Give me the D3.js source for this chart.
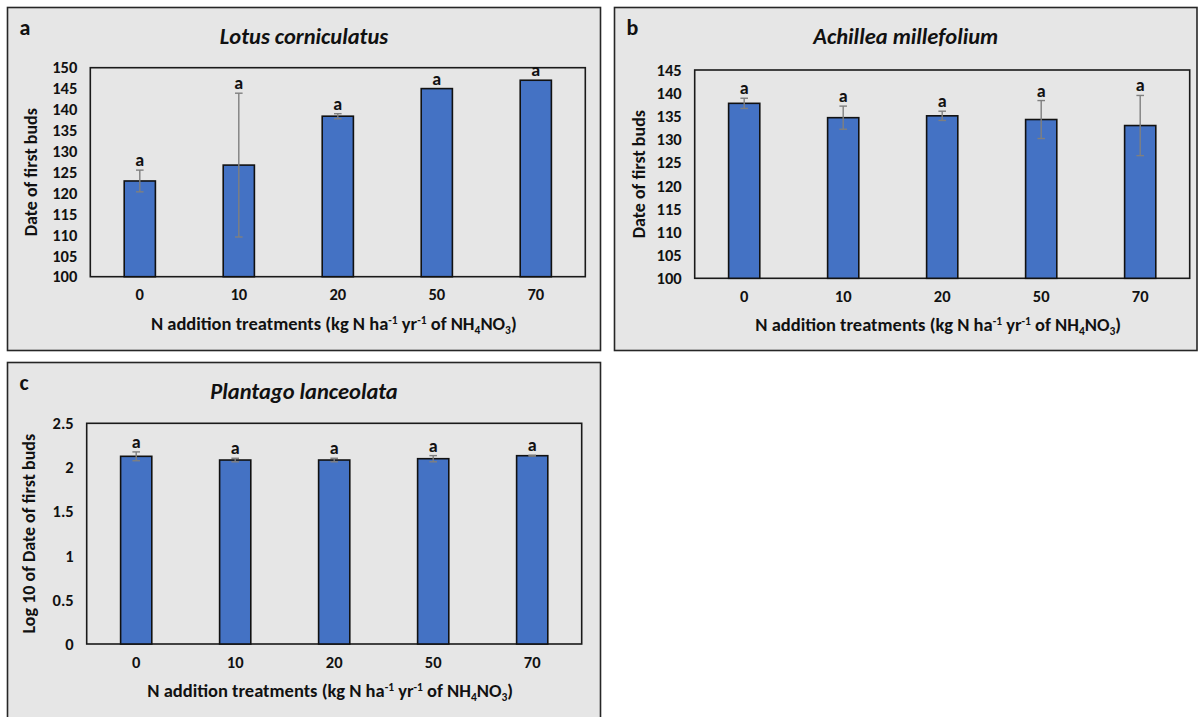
<!DOCTYPE html>
<html>
<head>
<meta charset="utf-8">
<script src="https://cdn.jsdelivr.net/npm/d3@7"></script>
<style>
  html, body { margin: 0; padding: 0; background: #ffffff; }
  svg text { font-family: Carlito, Lato, "Open Sans", sans-serif; font-weight: bold; fill: #111; }
</style>
</head>
<body>
<svg id="chart" width="1198" height="717"></svg>
<script>
// ---------- data ----------
const categories = ["0", "10", "20", "50", "70"];

const lotusMeans = [122.9, 126.7, 138.4, 145.0, 147.0];
const lotusErrors = [2.6, 17.2, 0.6, 0, 0];
const lotusLetters = ["a", "a", "a", "a", "a"];
const lotusTicks = [100, 105, 110, 115, 120, 125, 130, 135, 140, 145, 150];

const achilleaMeans = [137.8, 134.7, 135.1, 134.3, 133.0];
const achilleaErrors = [1.1, 2.5, 1.0, 4.1, 6.5];
const achilleaLetters = ["a", "a", "a", "a", "a"];
const achilleaTicks = [100, 105, 110, 115, 120, 125, 130, 135, 140, 145];

const plantagoMeans = [2.126, 2.084, 2.084, 2.099, 2.133];
const plantagoErrors = [0.05, 0.02, 0.02, 0.035, 0.005];
const plantagoLetters = ["a", "a", "a", "a", "a"];
const plantagoTicks = [0, 0.5, 1, 1.5, 2, 2.5];

// ---------- drawing ----------
const svg = d3.select("#chart");
const FONT = 'Carlito, Lato, "Open Sans", sans-serif';

function drawPanel(cfg) {
  const g = svg.append("g");
  // outer panel
  g.append("rect")
    .attr("x", cfg.outer.x).attr("y", cfg.outer.y)
    .attr("width", cfg.outer.w).attr("height", cfg.outer.h)
    .attr("fill", "#e6e6e6").attr("stroke", "#262626").attr("stroke-width", 1.6);

  // panel letter
  g.append("text")
    .attr("x", cfg.outer.x + 12).attr("y", cfg.outer.y + 27)
    .style("font-size", "22px")
    .text(cfg.letter);

  // title
  g.append("text")
    .attr("x", cfg.outer.x + cfg.outer.w / 2).attr("y", cfg.outer.y + 36)
    .attr("text-anchor", "middle")
    .style("font-size", "22.5px").style("font-style", "italic")
    .text(cfg.title);

  const p = cfg.plot;
  const x = d3.scaleBand().domain(categories).range([p.l, p.r]).paddingInner(0.685).paddingOuter(0.3425);
  const y = d3.scaleLinear().domain(cfg.domain).range([p.b, p.t]);

  // y axis labels
  const yAxis = d3.axisLeft(y).tickValues(cfg.ticks).tickSize(0).tickPadding(13).tickFormat(d => String(d));
  const ya = g.append("g").attr("transform", `translate(${p.l},0)`).call(yAxis);
  ya.select(".domain").remove();
  ya.selectAll("text").style("font-size", "16.5px").attr("fill", "#111")
    .style("font-family", FONT).style("font-weight", "bold");

  // x axis labels
  const xAxis = d3.axisBottom(x).tickSize(0).tickPadding(12);
  const xa = g.append("g").attr("transform", `translate(0,${p.b})`).call(xAxis);
  xa.select(".domain").remove();
  xa.selectAll("text").style("font-size", "16.5px").attr("fill", "#111")
    .style("font-family", FONT).style("font-weight", "bold");

  // plot border
  g.append("rect")
    .attr("x", p.l).attr("y", p.t).attr("width", p.r - p.l).attr("height", p.b - p.t)
    .attr("fill", "none").attr("stroke", "#1a1a1a").attr("stroke-width", 1.6);

  const data = categories.map((c, i) => ({ c, v: cfg.means[i], e: cfg.errors[i], l: cfg.letters[i] }));

  // bars
  g.selectAll(".bar").data(data).enter().append("rect")
    .attr("x", d => x(d.c)).attr("width", x.bandwidth())
    .attr("y", d => y(d.v)).attr("height", d => y(cfg.domain[0]) - y(d.v))
    .attr("fill", "#4472c4").attr("stroke", "#111").attr("stroke-width", 1.6);

  // error bars
  const eb = data.filter(d => d.e > 0);
  const cx = d => x(d.c) + x.bandwidth() / 2;
  g.selectAll(".err").data(eb).enter().append("line")
    .attr("x1", cx).attr("x2", cx)
    .attr("y1", d => y(d.v + d.e)).attr("y2", d => y(d.v - d.e))
    .attr("stroke", "#7f7f7f").attr("stroke-width", 1.4);
  ["top", "bot"].forEach(k => {
    g.selectAll(".cap" + k).data(eb).enter().append("line")
      .attr("x1", d => cx(d) - 3.8).attr("x2", d => cx(d) + 3.8)
      .attr("y1", d => y(k === "top" ? d.v + d.e : d.v - d.e))
      .attr("y2", d => y(k === "top" ? d.v + d.e : d.v - d.e))
      .attr("stroke", "#7f7f7f").attr("stroke-width", 1.4);
  });

  // significance letters
  g.selectAll(".sig").data(data).enter().append("text")
    .attr("x", cx)
    .attr("y", d => y(d.v + d.e) - 4)
    .attr("text-anchor", "middle")
    .style("font-size", "18px")
    .text(d => d.l);

  // y title
  g.append("text")
    .attr("transform", `translate(${p.l - cfg.yTitleOff},${(p.t + p.b) / 2}) rotate(-90)`)
    .attr("text-anchor", "middle")
    .style("font-size", "18px")
    .text(cfg.yTitle);

  // x title with super/subscripts
  const xt = g.append("text")
    .attr("x", (p.l + p.r) / 2 - 4).attr("y", p.b + 53)
    .attr("text-anchor", "middle")
    .style("font-size", "18.5px");
  const parts = [
    ["N addition treatments (kg N ha", null],
    ["-1", "sup"],
    [" yr", null],
    ["-1", "sup"],
    [" of NH", null],
    ["4", "sub"],
    ["NO", null],
    ["3", "sub"],
    [")", null]
  ];
  parts.forEach(([t, k], i) => {
    const ts = xt.append("tspan").text(t);
    let dy = 0;
    if (k === "sup") { dy -= 6; ts.style("font-size", "11.5px"); }
    if (k === "sub") { dy += 4; ts.style("font-size", "11.5px"); }
    if (i > 0) {
      const prevKind = parts[i - 1][1];
      if (prevKind === "sup") dy += 6;
      if (prevKind === "sub") dy -= 4;
    }
    if (dy !== 0) ts.attr("dy", dy);
  });
}

drawPanel({
  outer: { x: 7.5, y: 7.5, w: 593, h: 343 },
  plot: { l: 90.3, t: 67.7, r: 585.3, b: 276.7 },
  letter: "a", title: "Lotus corniculatus",
  domain: [100, 150], ticks: lotusTicks,
  means: lotusMeans, errors: lotusErrors, letters: lotusLetters,
  yTitle: "Date of first buds", yTitleOff: 53
});

drawPanel({
  outer: { x: 614.5, y: 7.5, w: 582.5, h: 343 },
  plot: { l: 694.7, t: 70, r: 1189.7, b: 278.3 },
  letter: "b", title: "Achillea millefolium",
  domain: [100, 145], ticks: achilleaTicks,
  means: achilleaMeans, errors: achilleaErrors, letters: achilleaLetters,
  yTitle: "Date of first buds", yTitleOff: 50
});

drawPanel({
  outer: { x: 7.5, y: 362.5, w: 593, h: 370 },
  plot: { l: 86.7, t: 423.3, r: 581.7, b: 644 },
  letter: "c", title: "Plantago lanceolata",
  domain: [0, 2.5], ticks: plantagoTicks,
  means: plantagoMeans, errors: plantagoErrors, letters: plantagoLetters,
  yTitle: "Log 10 of Date of first buds", yTitleOff: 52
});
</script>
</body>
</html>
